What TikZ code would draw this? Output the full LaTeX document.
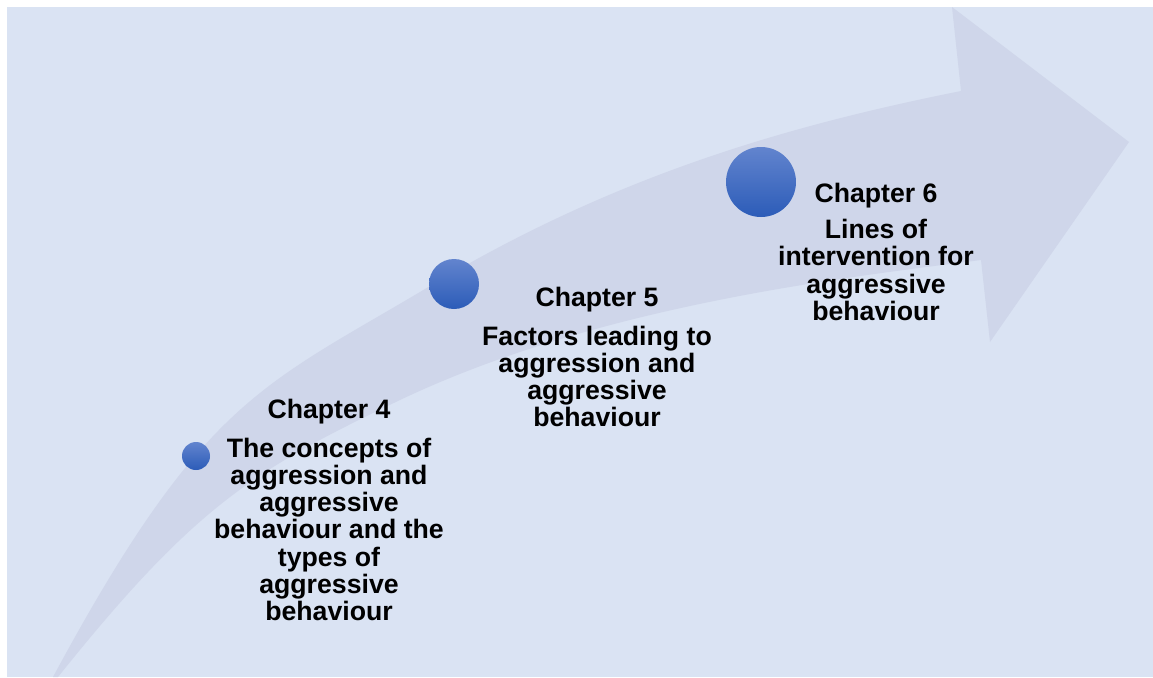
\documentclass[tikz,border=0pt]{standalone}
\usepackage{fontspec}
\setmainfont{Liberation Sans}
\definecolor{bgblue}{RGB}{218,227,243}
\definecolor{arrowblue}{RGB}{207,214,234}
\definecolor{dottop}{RGB}{98,132,206}
\definecolor{dotbottom}{RGB}{44,92,184}
\begin{document}
\begin{tikzpicture}[x=0.75pt, y=-0.75pt,
    chapdot/.style={circle, inner sep=0pt, top color=dottop, bottom color=dotbottom},
    chaptext/.style={anchor=north, align=center, inner sep=0pt,
        font=\fontsize{20}{20.4}\selectfont\bfseries}]

    \useasboundingbox (0,0) rectangle (1153,678);
    \fill[bgblue] (7,7) rectangle (1153,677);

    % curved arrow behind the chapters
    \begin{scope}
        \clip (7,7) rectangle (1153,677);
        \fill[arrowblue] (53,677) .. controls (204,397) and (263,386) .. (430,286)
            .. controls (614,176) and (786,126) .. (961,91)
            -- (952,7) -- (1129,142) -- (990,342) -- (981,260)
            .. controls (842,278) and (600,305) .. (400,400)
            .. controls (253,470) and (194,507) .. (58,677)
            -- cycle;
    \end{scope}

    \node[chapdot, minimum size=21pt] (dot4) at (196,456) {};
    \node[chapdot, minimum size=37.5pt] (dot5) at (454,284) {};
    \node[chapdot, minimum size=52.5pt] (dot6) at (761,182) {};

    \node[chaptext] (ch4) at (329,398.6) {Chapter 4\\[9pt] The concepts of\\ aggression and\\ aggressive\\ behaviour and the\\ types of\\ aggressive\\ behaviour};
    \node[chaptext] (ch5) at (597,286.6) {Chapter 5\\[9pt] Factors leading to\\ aggression and\\ aggressive\\ behaviour};
    \node[chaptext] (ch6) at (876,182.6) {Chapter 6\\[7pt] Lines of\\ intervention for\\ aggressive\\ behaviour};

\end{tikzpicture}
\end{document}
